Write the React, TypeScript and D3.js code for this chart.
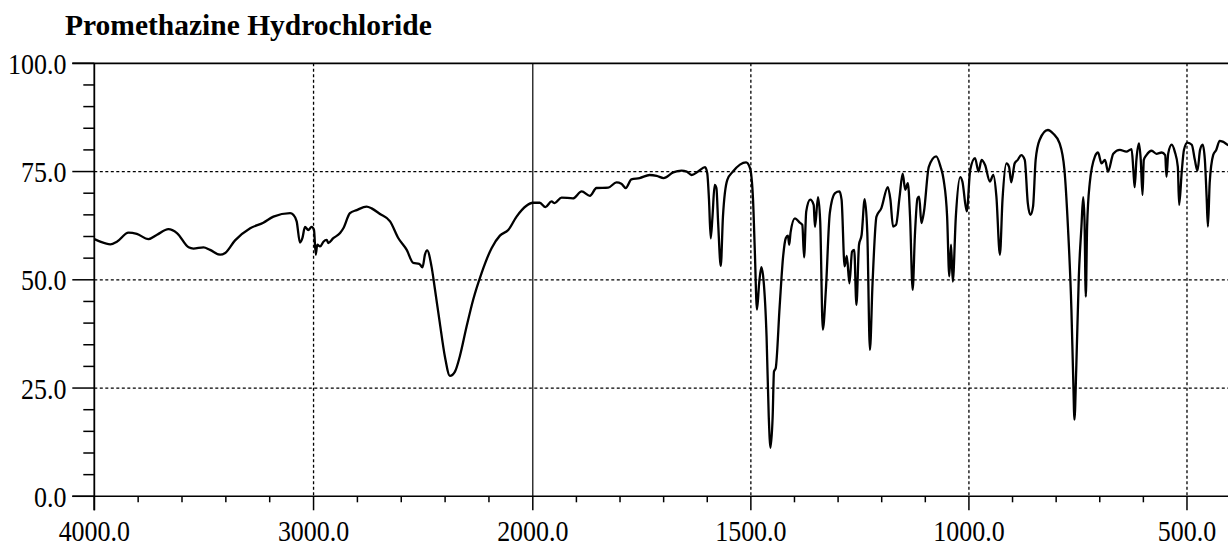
import React from 'react';
import * as d3 from 'd3';

const TITLE = 'Promethazine Hydrochloride';

const wavenumbers = [
  4000, 3973, 3927, 3897, 3844, 3806, 3753, 3714, 3662, 3623, 3570, 3548, 3502, 3472, 3426, 3403, 3358, 3289, 3229, 3183,
  3107, 3092, 3077, 3062, 3051, 3039, 3024, 3009, 2998, 2990, 2983, 2970, 2955, 2940, 2933, 2910, 2879, 2864, 2834, 2803,
  2758, 2735, 2697, 2651, 2613, 2575, 2545, 2518, 2503, 2492, 2482, 2462, 2446, 2424, 2401, 2378, 2355, 2333, 2302, 2272,
  2234, 2188, 2150, 2112, 2074, 2029, 2000, 1984, 1971, 1957, 1950, 1934, 1908, 1888, 1869, 1854, 1827, 1808, 1797, 1787,
  1774, 1755, 1732, 1716, 1700, 1678, 1659, 1647, 1636, 1621, 1605, 1600, 1596, 1592, 1588, 1583, 1579, 1575, 1569, 1564,
  1554, 1541, 1525, 1511, 1502, 1495, 1491, 1486, 1481, 1476, 1471, 1464, 1459, 1455, 1450, 1447, 1443, 1434, 1426, 1420,
  1415, 1412, 1409, 1399, 1388, 1382, 1378, 1373, 1364, 1356, 1353, 1346, 1341, 1335, 1328, 1319, 1307, 1297, 1292, 1285,
  1280, 1274, 1268, 1263, 1258, 1252, 1246, 1239, 1233, 1227, 1221, 1212, 1201, 1186, 1180, 1174, 1167, 1159, 1152, 1146,
  1140, 1135, 1129, 1124, 1118, 1114, 1109, 1103, 1092, 1075, 1065, 1058, 1050, 1045, 1041, 1037, 1030, 1020, 1015, 1005,
  997, 986, 978, 971, 963, 952, 944, 937, 929, 923, 914, 908, 903, 895, 888, 880, 872, 865, 859, 853,
  847, 838, 819, 807, 792, 781, 773, 765, 761, 758, 754, 748, 742, 738, 735, 732, 729, 723, 711, 704,
  696, 688, 681, 669, 654, 639, 627, 623, 620, 616, 610, 606, 602, 599, 593, 581, 570, 558, 550, 547,
  543, 535, 528, 521, 518, 512, 507, 499, 489, 482, 476, 470, 464, 459, 455, 452, 448, 440, 433, 425,
  418, 407, 400,
];

const transmittance = [
  59.4, 58.8, 58.2, 58.8, 60.9, 60.6, 59.4, 60.4, 61.7, 60.8, 57.5, 57.2, 57.5, 56.9, 55.8, 56.2, 59.1, 61.9, 63.2, 64.6,
  65.4, 65.0, 63.5, 58.6, 59.6, 62.2, 61.5, 62.2, 61.5, 55.8, 58.1, 57.7, 58.8, 59.2, 58.5, 59.6, 60.8, 61.9, 65.4, 66.1,
  66.9, 66.5, 65.2, 63.5, 59.6, 56.9, 53.9, 53.7, 52.9, 55.8, 56.8, 53.1, 47.7, 40.0, 32.3, 27.8, 28.8, 32.3, 39.2, 45.4,
  51.5, 57.3, 60.2, 61.5, 64.6, 67.1, 67.8, 67.8, 66.8, 68.1, 67.7, 69.0, 68.8, 70.4, 69.4, 71.2, 71.3, 72.5, 72.2, 71.2,
  73.2, 73.5, 74.2, 74.0, 73.5, 74.8, 75.2, 75.0, 74.2, 75.0, 76.0, 74.6, 68.5, 59.6, 64.6, 71.9, 71.2, 63.1, 53.2, 64.6,
  73.1, 75.0, 76.6, 77.1, 75.8, 68.5, 56.9, 43.1, 49.2, 52.9, 50.0, 36.9, 18.5, 11.2, 18.5, 28.8, 29.6, 43.8, 55.4, 59.6,
  60.2, 58.1, 60.9, 64.2, 63.2, 62.7, 55.2, 65.8, 68.5, 67.3, 62.2, 69.1, 63.5, 38.5, 47.7, 65.4, 70.0, 70.4, 68.5, 53.1,
  55.5, 49.2, 56.5, 56.9, 44.2, 58.1, 60.4, 68.6, 60.8, 33.8, 49.2, 64.6, 66.5, 71.4, 68.5, 62.3, 62.7, 69.2, 74.5, 70.8,
  72.3, 64.6, 47.7, 60.0, 68.8, 69.2, 63.1, 65.8, 76.1, 78.5, 76.1, 73.1, 64.6, 50.8, 58.1, 49.6, 64.6, 73.7, 72.7, 65.8,
  75.4, 78.1, 75.0, 77.7, 76.5, 72.7, 74.2, 69.2, 55.8, 68.5, 76.9, 76.1, 72.5, 76.9, 77.7, 78.8, 77.7, 67.7, 65.0, 66.9,
  77.7, 82.3, 84.6, 83.8, 81.5, 75.4, 62.3, 43.1, 27.7, 17.7, 29.2, 50.8, 62.3, 69.1, 63.8, 46.1, 62.3, 72.3, 78.5, 79.4,
  76.9, 77.7, 75.0, 79.1, 80.0, 79.6, 80.2, 75.4, 71.4, 77.7, 81.5, 77.7, 69.6, 77.7, 78.8, 79.8, 79.1, 79.4, 78.8, 73.8,
  79.2, 81.2, 79.6, 76.1, 67.3, 75.0, 80.0, 81.7, 81.2, 77.7, 75.2, 80.0, 81.2, 77.7, 69.2, 62.3, 72.3, 78.8, 80.0, 82.1,
  81.9, 81.2, 80.8,
];

const xMajorTicks = [4000, 3000, 2000, 1500, 1000, 500];
const yMajorTicks = [0, 25, 50, 75, 100];

const W = 1228;
const H = 548;
const FONT = "'Liberation Serif', 'Times New Roman', serif";

export default function App() {
  const x = d3.scaleLinear().domain([4000, 2000, 400]).range([94.3, 532.8, 1230.6]);
  const y = d3.scaleLinear().domain([0, 100]).range([496.3, 63.3]);
  const left = x(4000);
  const right = W;
  const top = y(100);
  const bottom = y(0);

  const xMinor = [
    ...d3.range(3800, 2000, -200),
    ...d3.range(1900, 400, -100),
  ].filter((v) => !xMajorTicks.includes(v));
  const yMinor = d3.range(5, 100, 5).filter((v) => v % 25 !== 0);
  const fmt = d3.format('.1f');

  const data = wavenumbers.map((w, i) => [w, transmittance[i]] as [number, number]);
  const line = d3
    .line<[number, number]>()
    .x((d) => x(d[0]))
    .y((d) => y(d[1]))
    .curve(d3.curveMonotoneX);

  return (
    <svg
      width={W}
      height={H}
      style={{ position: 'absolute', left: 0, top: 0, background: '#fff' }}
    >
      <defs>
        <clipPath id="plot">
          <rect x={left} y={top - 2} width={right - left} height={bottom - top + 4} />
        </clipPath>
      </defs>
      <rect x={0} y={0} width={W} height={H} fill="#fff" />
      <text x={65} y={35} fontFamily={FONT} fontWeight="bold" fontSize={29.5} fill="#000">
        {TITLE}
      </text>

      {/* horizontal grid */}
      {yMajorTicks
        .filter((v) => v !== 0 && v !== 100)
        .map((v) => (
          <line
            key={'hg' + v}
            x1={left}
            x2={right}
            y1={y(v)}
            y2={y(v)}
            stroke="#000"
            strokeWidth={1.3}
            strokeDasharray="3,2.5"
          />
        ))}
      {/* vertical grid */}
      {xMajorTicks
        .filter((v) => v !== 4000)
        .map((v) => (
          <line
            key={'vg' + v}
            x1={x(v)}
            x2={x(v)}
            y1={top}
            y2={bottom}
            stroke="#000"
            strokeWidth={v === 2000 ? 1.2 : 1.3}
            strokeDasharray={v === 2000 ? undefined : '3,2.5'}
          />
        ))}

      {/* top border at 100 */}
      <line x1={left - 22} x2={right} y1={top} y2={top} stroke="#000" strokeWidth={1.8} />
      {/* x axis */}
      <line x1={left - 22} x2={right} y1={bottom} y2={bottom} stroke="#000" strokeWidth={1.5} />
      {/* y axis */}
      <line x1={left} x2={left} y1={top} y2={bottom + 14} stroke="#000" strokeWidth={1.8} />

      {/* y ticks */}
      {yMajorTicks.map((v) => (
        <line key={'yt' + v} x1={left - 22} x2={left} y1={y(v)} y2={y(v)} stroke="#000" strokeWidth={1.5} />
      ))}
      {yMinor.map((v) => (
        <line key={'ym' + v} x1={left - 11} x2={left} y1={y(v)} y2={y(v)} stroke="#000" strokeWidth={1.5} />
      ))}
      {yMajorTicks.map((v) => (
        <text
          key={'yl' + v}
          transform={`translate(66.5,${y(v) + 10.5}) scale(0.88,1)`}
          textAnchor="end"
          fontFamily={FONT}
          fontSize={29.5}
          fill="#000"
        >
          {fmt(v)}
        </text>
      ))}

      {/* x ticks */}
      {xMajorTicks.map((v) => (
        <line key={'xt' + v} x1={x(v)} x2={x(v)} y1={bottom} y2={bottom + 14} stroke="#000" strokeWidth={1.5} />
      ))}
      {xMinor.map((v) => (
        <line key={'xm' + v} x1={x(v)} x2={x(v)} y1={bottom} y2={bottom + 6} stroke="#000" strokeWidth={1.5} />
      ))}
      {xMajorTicks.map((v) => (
        <text
          key={'xl' + v}
          transform={`translate(${x(v)},541) scale(0.88,1)`}
          textAnchor="middle"
          fontFamily={FONT}
          fontSize={29.5}
          fill="#000"
        >
          {fmt(v)}
        </text>
      ))}

      {/* spectrum */}
      <path
        d={line(data) || ''}
        fill="none"
        stroke="#000"
        strokeWidth={2.3}
        strokeLinejoin="round"
        clipPath="url(#plot)"
      />
    </svg>
  );
}
